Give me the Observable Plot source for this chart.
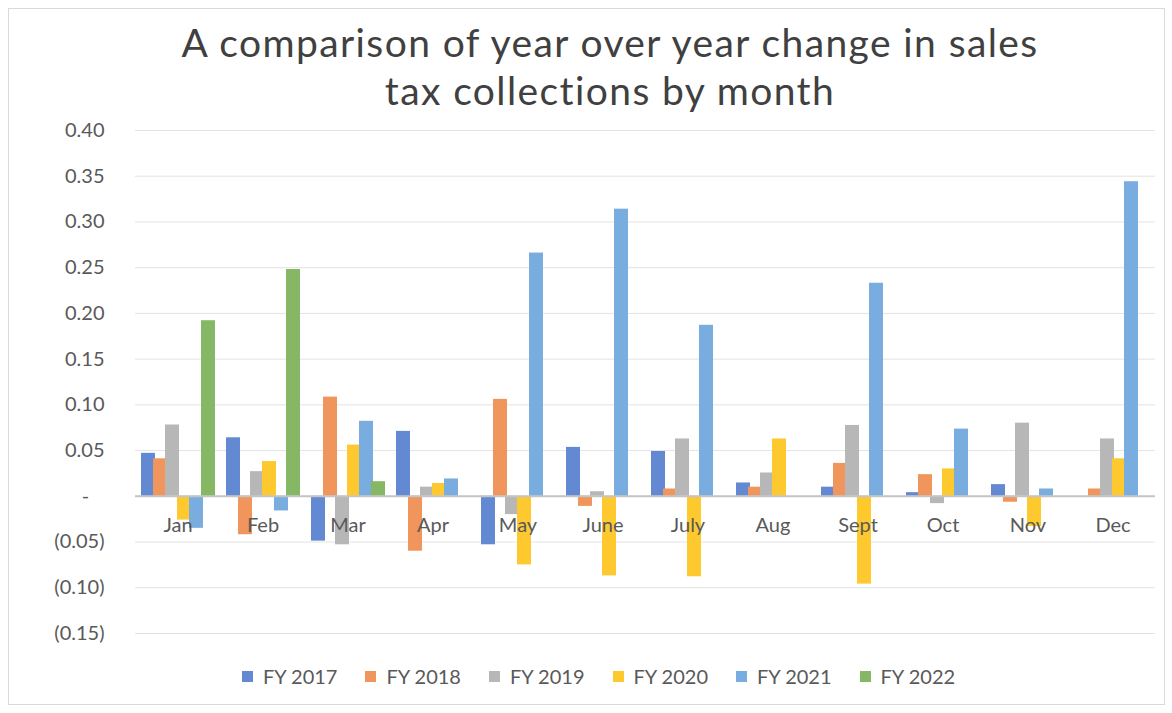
<!DOCTYPE html>
<html>
<head>
<meta charset="utf-8">
<script src="https://cdn.jsdelivr.net/npm/d3@7"></script>
<script src="https://cdn.jsdelivr.net/npm/@observablehq/plot@0.6"></script>
<style>
  body { margin: 0; background: #fff; font-family: Lato, "Open Sans", sans-serif; }
  #page { position: relative; width: 1172px; height: 713px; overflow: hidden; background: #fff; }
  #frame { position: absolute; left: 8px; top: 8px; width: 1157px; height: 697px; border: 1px solid #d9d9d9; box-sizing: border-box; }
  #title { position: absolute; left: 48px; top: 18px; width: 1124px; text-align: center; font-size: 39px; line-height: 48px; letter-spacing: 1.4px; color: #404040; }
  #chart { position: absolute; left: 0; top: 115px; }
  #legend { position: absolute; left: 0; top: 664px; width: 1197px; display: flex; justify-content: center; align-items: center; font-size: 20px; color: #595959; height: 24px; }
  .item { display: inline-flex; align-items: center; margin-right: 28px; }
  .item:last-child { margin-right: 0; }
  .sw { width: 11px; height: 11px; margin-right: 10px; display: inline-block; }
</style>
</head>
<body>
<div id="page">
  <div id="frame"></div>
  <div id="title">A comparison of year over year change in sales<br>tax collections by month</div>
  <div id="chart"></div>
  <div id="legend"></div>
</div>
<script>
const months = ["Jan", "Feb", "Mar", "Apr", "May", "June", "July", "Aug", "Sept", "Oct", "Nov", "Dec"];
const series = ["FY 2017", "FY 2018", "FY 2019", "FY 2020", "FY 2021", "FY 2022"];
const colors = ["#6389d2", "#f0955c", "#b7b7b7", "#fdc92f", "#79acdf", "#86b764"];

const fy2017 = [0.047, 0.064, -0.049, 0.071, -0.053, 0.0535, 0.049, 0.0146, 0.010, 0.004, 0.0128, null];
const fy2018 = [0.041, -0.042, 0.1085, -0.060, 0.106, -0.011, 0.008, 0.010, 0.036, 0.0237, -0.0065, 0.008];
const fy2019 = [0.078, 0.027, -0.053, 0.010, -0.020, 0.005, 0.0627, 0.0255, 0.0775, -0.008, 0.080, 0.0627];
const fy2020 = [-0.026, 0.038, 0.056, 0.014, -0.075, -0.087, -0.088, 0.0627, -0.096, 0.030, -0.033, 0.041];
const fy2021 = [-0.035, -0.016, 0.082, 0.019, 0.266, 0.314, 0.187, null, 0.233, 0.0735, 0.008, 0.344];
const fy2022 = [0.192, 0.248, 0.016, null, null, null, null, null, null, null, null, null];

const yTicks = [-0.15, -0.10, -0.05, 0, 0.05, 0.10, 0.15, 0.20, 0.25, 0.30, 0.35, 0.40];

const seriesValues = [fy2017, fy2018, fy2019, fy2020, fy2021, fy2022];
const data = [];
series.forEach((s, i) => {
  months.forEach((m, j) => {
    const v = seriesValues[i][j];
    if (v !== null) data.push({ series: s, month: m, value: v });
  });
});

const fmt = d => d === 0 ? "-\u00a0\u00a0\u00a0" : d < 0 ? `(${Math.abs(d).toFixed(2)})` : d.toFixed(2);

const chart = Plot.plot({
  width: 1172,
  height: 540,
  marginLeft: 133,
  marginRight: 16,
  marginTop: 15,
  marginBottom: 22,
  style: { fontFamily: "Lato, 'Open Sans', sans-serif", background: "transparent", overflow: "visible" },
  fx: { domain: months, padding: 0, axis: null },
  x: { domain: series, paddingInner: 0, paddingOuter: 0.54, axis: null },
  y: { domain: [-0.15, 0.40], axis: null },
  color: { domain: series, range: colors },
  marks: [
    Plot.gridY(yTicks, { stroke: "#e3e3e3", strokeOpacity: 1, strokeWidth: 1 }),
    Plot.axisY(yTicks, { tickSize: 0, tickPadding: 31, tickFormat: fmt, fontSize: 20, fill: "#595959", label: null }),
    Plot.barY(data, { fx: "month", x: "series", y: "value", fill: "series", insetLeft: -1, insetRight: -1 }),
    Plot.ruleY([0], { stroke: "#c4c4c4", strokeWidth: 2 }),
    Plot.text(months, { fx: d => d, y: () => 0, text: d => d, dy: 29, fontSize: 20, fill: "#595959" })
  ]
});
document.getElementById("chart").appendChild(chart);

const legend = document.getElementById("legend");
series.forEach((s, i) => {
  const item = document.createElement("span");
  item.className = "item";
  const sw = document.createElement("span");
  sw.className = "sw";
  sw.style.background = colors[i];
  const t = document.createElement("span");
  t.textContent = s;
  item.appendChild(sw);
  item.appendChild(t);
  legend.appendChild(item);
});
</script>
</body>
</html>
